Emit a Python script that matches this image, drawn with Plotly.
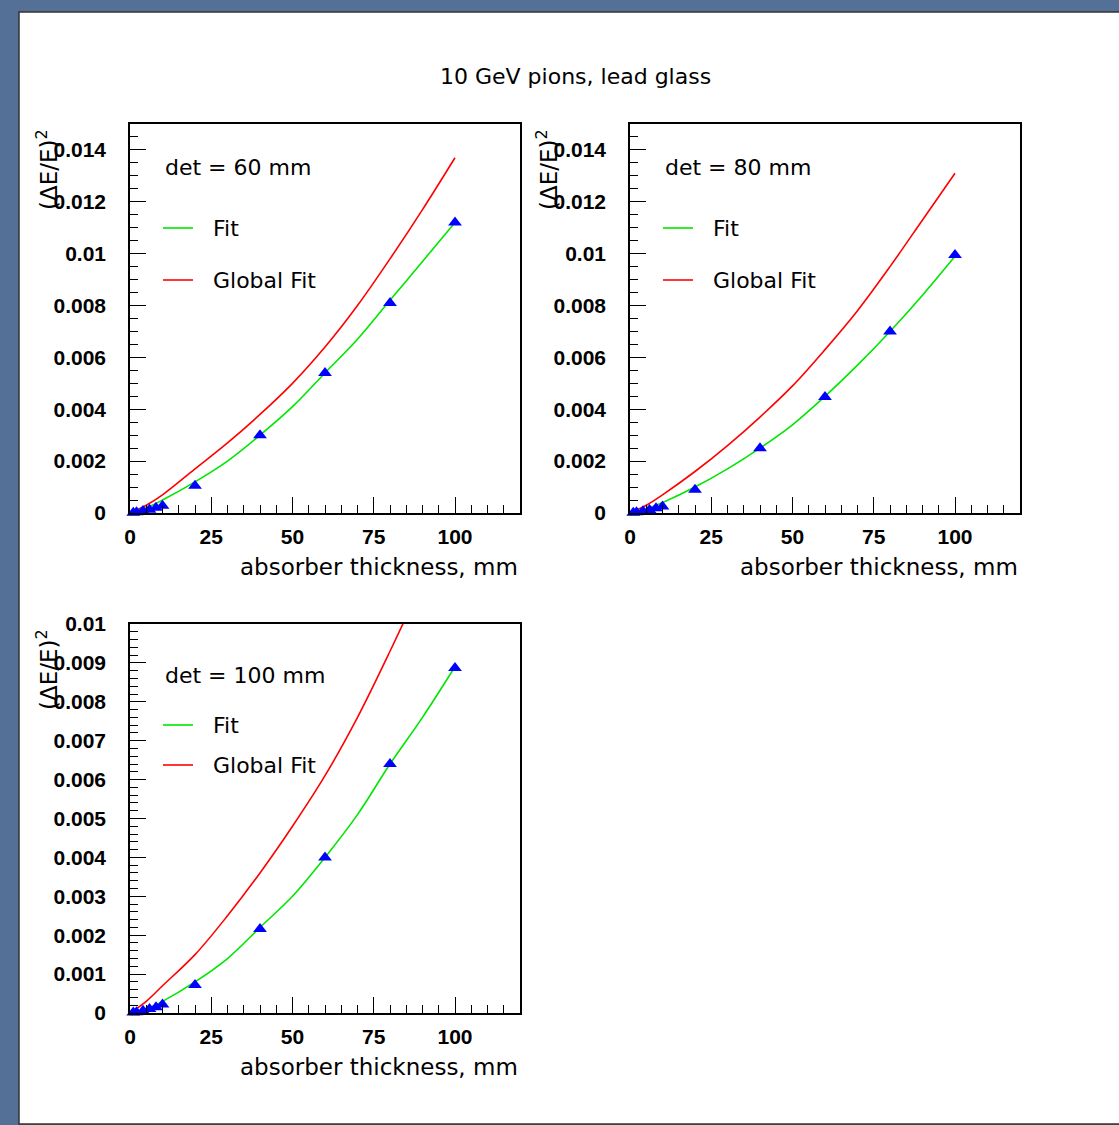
import plotly.graph_objects as go

W, H = 1119, 1125

# ---------------- data ----------------
title_text = "10 GeV pions, lead glass"
x_title = "absorber thickness, mm"
y_title = "(ΔE/E)<sup>2</sup>"
det_labels = ["det = 60 mm", "det = 80 mm", "det = 100 mm"]
legend_fit = "Fit"
legend_global = "Global Fit"

x_points = [1, 2, 4, 6, 8, 10, 20, 40, 60, 80, 100]
y_points_60 = [0.00001, 0.00003, 0.00008, 0.00013, 0.00020, 0.00028, 0.00105, 0.0030, 0.0054, 0.0081, 0.0112]
y_points_80 = [0.00001, 0.00003, 0.00007, 0.00012, 0.00018, 0.00025, 0.00090, 0.0025, 0.00447, 0.0070, 0.00995]
y_points_100 = [0.00001, 0.00002, 0.00006, 0.00010, 0.00015, 0.00022, 0.00072, 0.00216, 0.0040, 0.0064, 0.00887]

x_curve = [0, 5, 10, 20, 30, 40, 50, 60, 70, 80, 90, 100]
fit_60 = [0, 0.0002, 0.0005, 0.0012, 0.0020, 0.0030, 0.0041, 0.0054, 0.0067, 0.0082, 0.0097, 0.0112]
glob_60 = [0, 0.0003, 0.0007, 0.0017, 0.0027, 0.0038, 0.0050, 0.0064, 0.0080, 0.0098, 0.0117, 0.0137]
fit_80 = [0, 0.00015, 0.0004, 0.0010, 0.0017, 0.0025, 0.0034, 0.0045, 0.0057, 0.0070, 0.0084, 0.0099]
glob_80 = [0, 0.0003, 0.0007, 0.0016, 0.0026, 0.0037, 0.0049, 0.0063, 0.0078, 0.0095, 0.0113, 0.0131]
fit_100 = [0, 0.0001, 0.0003, 0.0008, 0.0014, 0.0022, 0.0030, 0.0040, 0.0051, 0.0064, 0.0076, 0.0089]
glob_100 = [0, 0.0003, 0.0007, 0.0015, 0.0025, 0.0036, 0.0048, 0.0061, 0.0076, 0.0093, 0.0111, 0.0130]

x_tickvals = [0, 25, 50, 75, 100]
x_ticktext = ["0", "25", "50", "75", "100"]
y_tickvals_a = [0, 0.002, 0.004, 0.006, 0.008, 0.010, 0.012, 0.014]
y_ticktext_a = ["0", "0.002", "0.004", "0.006", "0.008", "0.01", "0.012", "0.014"]
y_tickvals_b = [0, 0.001, 0.002, 0.003, 0.004, 0.005, 0.006, 0.007, 0.008, 0.009, 0.010]
y_ticktext_b = ["0", "0.001", "0.002", "0.003", "0.004", "0.005", "0.006", "0.007", "0.008", "0.009", "0.01"]

# ---------------- layout helpers ----------------
def px(x):
    return x / W

def py(y):
    return 1 - y / H

GREEN = "#00e600"
RED = "#ff0000"
BLUE = "#0000ff"
TXT_FONT = "DejaVu Sans"
TICK_FONT = "Liberation Sans"

panels = [
    dict(x0=130, x1=520, y0=124, y1=513, pts=y_points_60, fit=fit_60, glob=glob_60,
         yr=[0, 0.015], tv=y_tickvals_a, tt=y_ticktext_a, ydt=0.0005, det=det_labels[0],
         det_y=168, fit_y=228, glob_y=280),
    dict(x0=630, x1=1020, y0=124, y1=513, pts=y_points_80, fit=fit_80, glob=glob_80,
         yr=[0, 0.015], tv=y_tickvals_a, tt=y_ticktext_a, ydt=0.0005, det=det_labels[1],
         det_y=168, fit_y=228, glob_y=280),
    dict(x0=130, x1=520, y0=624, y1=1013, pts=y_points_100, fit=fit_100, glob=glob_100,
         yr=[0, 0.010], tv=y_tickvals_b, tt=y_ticktext_b, ydt=0.0002, det=det_labels[2],
         det_y=675, fit_y=725, glob_y=765),
]

fig = go.Figure()
shapes = []
annotations = []

# white canvas with border
shapes.append(dict(type="rect", xref="paper", yref="paper", x0=px(19), x1=px(1125), y0=py(1124), y1=py(12),
                   fillcolor="white", line=dict(color="#333333", width=1.5), layer="below"))

tickfont = dict(family=TICK_FONT, size=21, color="black", weight="bold")

for i, p in enumerate(panels, start=1):
    xa = "x" if i == 1 else f"x{i}"
    ya = "y" if i == 1 else f"y{i}"
    fig.add_trace(go.Scatter(x=x_curve, y=p["glob"], mode="lines", line=dict(color=RED, width=1.6, shape="spline"),
                             xaxis=xa, yaxis=ya, showlegend=False))
    fig.add_trace(go.Scatter(x=x_curve, y=p["fit"], mode="lines", line=dict(color=GREEN, width=1.6, shape="spline"),
                             xaxis=xa, yaxis=ya, showlegend=False))
    fig.add_trace(go.Scatter(x=x_points, y=p["pts"], mode="markers",
                             marker=dict(symbol="triangle-up", size=12, color=BLUE, line=dict(width=0)),
                             xaxis=xa, yaxis=ya, showlegend=False, cliponaxis=False))
    xkey = "xaxis" if i == 1 else f"xaxis{i}"
    ykey = "yaxis" if i == 1 else f"yaxis{i}"
    fig.update_layout(**{
        xkey: dict(domain=[px(p["x0"]), px(p["x1"])], range=[0, 120], anchor=ya, automargin=False,
                   showgrid=False, zeroline=False, showline=True, linecolor="black", linewidth=1.5, mirror=True,
                   ticks="inside", ticklen=16, tickwidth=1.3, tickcolor="black",
                   tickvals=x_tickvals, ticktext=x_ticktext, tickfont=tickfont, ticklabelstandoff=4,
                   minor=dict(ticks="inside", dtick=5, tick0=0, ticklen=8, tickwidth=1.1, tickcolor="black")),
        ykey: dict(domain=[py(p["y1"]), py(p["y0"])], range=p["yr"], anchor=xa, automargin=False,
                   showgrid=False, zeroline=False, showline=True, linecolor="black", linewidth=1.5, mirror=True,
                   ticks="inside", ticklen=16, tickwidth=1.3, tickcolor="black",
                   tickvals=p["tv"], ticktext=p["tt"], tickfont=tickfont, ticklabelstandoff=18,
                   minor=dict(ticks="inside", dtick=p["ydt"], tick0=0, ticklen=8, tickwidth=1.1, tickcolor="black")),
    })
    # axis titles
    annotations.append(dict(text=x_title, xref="paper", yref="paper", x=px(p["x1"]), y=py(p["y1"] + 54),
                            xanchor="right", yanchor="middle", showarrow=False,
                            font=dict(family=TXT_FONT, size=23, color="black")))
    annotations.append(dict(text=y_title, xref="paper", yref="paper", x=px(p["x0"] - 83), y=py(p["y0"] + 46),
                            xanchor="center", yanchor="middle", showarrow=False, textangle=-90,
                            font=dict(family=TXT_FONT, size=23, color="black")))
    # in-plot legend
    lx = p["x0"] + 33
    annotations.append(dict(text=p["det"], xref="paper", yref="paper", x=px(lx), y=py(p["det_y"]),
                            xanchor="left", yanchor="middle", showarrow=False,
                            font=dict(family=TXT_FONT, size=22, color="black")))
    annotations.append(dict(text=legend_fit, xref="paper", yref="paper", x=px(lx + 48), y=py(p["fit_y"]),
                            xanchor="left", yanchor="middle", showarrow=False,
                            font=dict(family=TXT_FONT, size=22, color="black")))
    annotations.append(dict(text=legend_global, xref="paper", yref="paper", x=px(lx + 48), y=py(p["glob_y"]),
                            xanchor="left", yanchor="middle", showarrow=False,
                            font=dict(family=TXT_FONT, size=22, color="black")))
    shapes.append(dict(type="line", xref="paper", yref="paper", x0=px(lx), x1=px(lx + 30),
                       y0=py(p["fit_y"]), y1=py(p["fit_y"]), line=dict(color=GREEN, width=1.6)))
    shapes.append(dict(type="line", xref="paper", yref="paper", x0=px(lx), x1=px(lx + 30),
                       y0=py(p["glob_y"]), y1=py(p["glob_y"]), line=dict(color=RED, width=1.6)))

annotations.append(dict(text=title_text, xref="paper", yref="paper", x=px(575), y=py(77),
                        xanchor="center", yanchor="middle", showarrow=False,
                        font=dict(family=TXT_FONT, size=22, color="black")))

fig.update_layout(width=W, height=H, margin=dict(l=0, r=0, t=0, b=0, pad=0, autoexpand=False),
                  paper_bgcolor="rgb(84,112,150)", plot_bgcolor="white",
                  shapes=shapes, annotations=annotations, showlegend=False)

fig.write_html("out.html")
